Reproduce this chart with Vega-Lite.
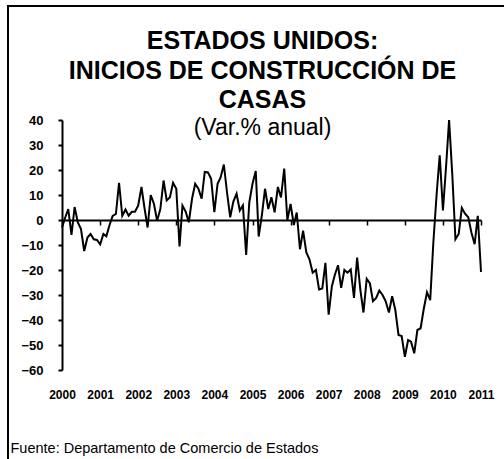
{
  "$schema": "https://vega.github.io/schema/vega-lite/v6.json",
  "width": 497,
  "height": 454,
  "autosize": {"type": "none"},
  "padding": {"left": 8, "top": 6, "right": 0, "bottom": 0},
  "background": "white",
  "title": {
    "text": ["ESTADOS UNIDOS:", "INICIOS DE CONSTRUCCIÓN  DE", "CASAS"],
    "subtitle": "(Var.% anual)",
    "anchor": "middle",
    "frame": "group",
    "dx": 6,
    "offset": -134,
    "font": "Liberation Sans",
    "fontSize": 25,
    "fontWeight": "bold",
    "color": "black",
    "lineHeight": 29.5,
    "subtitleFont": "Liberation Sans",
    "subtitleFontSize": 23,
    "subtitleFontWeight": "normal",
    "subtitleColor": "black",
    "subtitlePadding": 4
  },
  "config": {
    "view": {"stroke": "black", "strokeWidth": 2},
    "font": "Liberation Sans"
  },
  "data": {
    "values": [
      {"date": "2000-01-01", "value": -3},
      {"date": "2000-02-01", "value": 1},
      {"date": "2000-03-01", "value": 4.4},
      {"date": "2000-04-01", "value": -6},
      {"date": "2000-05-01", "value": 5.2},
      {"date": "2000-06-01", "value": -1},
      {"date": "2000-07-01", "value": -3.6},
      {"date": "2000-08-01", "value": -12.4},
      {"date": "2000-09-01", "value": -7},
      {"date": "2000-10-01", "value": -5.6},
      {"date": "2000-11-01", "value": -7.7},
      {"date": "2000-12-01", "value": -8},
      {"date": "2001-01-01", "value": -9.7},
      {"date": "2001-02-01", "value": -5.6},
      {"date": "2001-03-01", "value": -6.5},
      {"date": "2001-04-01", "value": -2},
      {"date": "2001-05-01", "value": 1.6},
      {"date": "2001-06-01", "value": 2.4},
      {"date": "2001-07-01", "value": 14.9},
      {"date": "2001-08-01", "value": 1.7},
      {"date": "2001-09-01", "value": 4.2},
      {"date": "2001-10-01", "value": 1.7},
      {"date": "2001-11-01", "value": 3.3},
      {"date": "2001-12-01", "value": 3.3},
      {"date": "2002-01-01", "value": 5.8},
      {"date": "2002-02-01", "value": 13.2},
      {"date": "2002-03-01", "value": 5.1},
      {"date": "2002-04-01", "value": -3},
      {"date": "2002-05-01", "value": 10},
      {"date": "2002-06-01", "value": 6.4},
      {"date": "2002-07-01", "value": -0.3},
      {"date": "2002-08-01", "value": 4.4},
      {"date": "2002-09-01", "value": 15.8},
      {"date": "2002-10-01", "value": 7.8},
      {"date": "2002-11-01", "value": 9.1},
      {"date": "2002-12-01", "value": 14.9},
      {"date": "2003-01-01", "value": 12.5},
      {"date": "2003-02-01", "value": -10.6},
      {"date": "2003-03-01", "value": 5.8},
      {"date": "2003-04-01", "value": 3.3},
      {"date": "2003-05-01", "value": -0.9},
      {"date": "2003-06-01", "value": 8.5},
      {"date": "2003-07-01", "value": 14.5},
      {"date": "2003-08-01", "value": 12.5},
      {"date": "2003-09-01", "value": 8.5},
      {"date": "2003-10-01", "value": 19.2},
      {"date": "2003-11-01", "value": 19},
      {"date": "2003-12-01", "value": 16.5},
      {"date": "2004-01-01", "value": 3.1},
      {"date": "2004-02-01", "value": 14.5},
      {"date": "2004-03-01", "value": 17},
      {"date": "2004-04-01", "value": 22.2},
      {"date": "2004-05-01", "value": 11.2},
      {"date": "2004-06-01", "value": 1.1},
      {"date": "2004-07-01", "value": 7.4},
      {"date": "2004-08-01", "value": 10.5},
      {"date": "2004-09-01", "value": 3.8},
      {"date": "2004-10-01", "value": 5.8},
      {"date": "2004-11-01", "value": -14},
      {"date": "2004-12-01", "value": 7.1},
      {"date": "2005-01-01", "value": 14.5},
      {"date": "2005-02-01", "value": 19.6},
      {"date": "2005-03-01", "value": -6.6},
      {"date": "2005-04-01", "value": 2},
      {"date": "2005-05-01", "value": 12.5},
      {"date": "2005-06-01", "value": 4.4},
      {"date": "2005-07-01", "value": 9.1},
      {"date": "2005-08-01", "value": 3.1},
      {"date": "2005-09-01", "value": 13.2},
      {"date": "2005-10-01", "value": 9},
      {"date": "2005-11-01", "value": 20.6},
      {"date": "2005-12-01", "value": 0},
      {"date": "2006-01-01", "value": 6.4},
      {"date": "2006-02-01", "value": -2},
      {"date": "2006-03-01", "value": 3},
      {"date": "2006-04-01", "value": -11.7},
      {"date": "2006-05-01", "value": -4.3},
      {"date": "2006-06-01", "value": -13},
      {"date": "2006-07-01", "value": -15.7},
      {"date": "2006-08-01", "value": -21.1},
      {"date": "2006-09-01", "value": -20},
      {"date": "2006-10-01", "value": -27.8},
      {"date": "2006-11-01", "value": -27.4},
      {"date": "2006-12-01", "value": -17.1},
      {"date": "2007-01-01", "value": -37.9},
      {"date": "2007-02-01", "value": -26.5},
      {"date": "2007-03-01", "value": -22},
      {"date": "2007-04-01", "value": -18.1},
      {"date": "2007-05-01", "value": -27.1},
      {"date": "2007-06-01", "value": -20},
      {"date": "2007-07-01", "value": -21.1},
      {"date": "2007-08-01", "value": -19.8},
      {"date": "2007-09-01", "value": -31.2},
      {"date": "2007-10-01", "value": -15},
      {"date": "2007-11-01", "value": -28},
      {"date": "2007-12-01", "value": -37},
      {"date": "2008-01-01", "value": -23.5},
      {"date": "2008-02-01", "value": -25.4},
      {"date": "2008-03-01", "value": -32.5},
      {"date": "2008-04-01", "value": -31.2},
      {"date": "2008-05-01", "value": -28.2},
      {"date": "2008-06-01", "value": -30},
      {"date": "2008-07-01", "value": -32.5},
      {"date": "2008-08-01", "value": -37},
      {"date": "2008-09-01", "value": -30.5},
      {"date": "2008-10-01", "value": -35.9},
      {"date": "2008-11-01", "value": -46},
      {"date": "2008-12-01", "value": -46.4},
      {"date": "2009-01-01", "value": -54.7},
      {"date": "2009-02-01", "value": -48},
      {"date": "2009-03-01", "value": -48.7},
      {"date": "2009-04-01", "value": -53.3},
      {"date": "2009-05-01", "value": -44},
      {"date": "2009-06-01", "value": -43.3},
      {"date": "2009-07-01", "value": -35.6},
      {"date": "2009-08-01", "value": -28.9},
      {"date": "2009-09-01", "value": -32.1},
      {"date": "2009-10-01", "value": -9},
      {"date": "2009-11-01", "value": 10},
      {"date": "2009-12-01", "value": 25.9},
      {"date": "2010-01-01", "value": 3.8},
      {"date": "2010-02-01", "value": 22},
      {"date": "2010-03-01", "value": 40},
      {"date": "2010-04-01", "value": 17.9},
      {"date": "2010-05-01", "value": -7.7},
      {"date": "2010-06-01", "value": -5.6},
      {"date": "2010-07-01", "value": 4.8},
      {"date": "2010-08-01", "value": 2.5},
      {"date": "2010-09-01", "value": 1.1},
      {"date": "2010-10-01", "value": -5},
      {"date": "2010-11-01", "value": -9.7},
      {"date": "2010-12-01", "value": 1.7},
      {"date": "2011-01-01", "value": -20.8}
    ]
  },
  "mark": {"type": "line", "color": "black", "strokeWidth": 2},
  "encoding": {
    "x": {
      "field": "date",
      "type": "temporal",
      "scale": {
        "type": "utc",
        "domain": [
          {"year": 2000, "month": 1, "date": 1, "utc": true},
          {"year": 2011, "month": 1, "date": 1, "utc": true}
        ],
        "range": [54, 473],
        "nice": false
      },
      "axis": {
        "orient": "bottom",
        "offset": -240,
        "title": "Fuente: Departamento de Comercio de Estados",
        "titleX": 2,
        "titleY": 232,
        "titleAlign": "left",
        "titleAnchor": "start",
        "titleBaseline": "alphabetic",
        "titleFont": "Liberation Sans",
        "titleFontSize": 14.5,
        "titleFontWeight": "normal",
        "titleColor": "black",
        "domain": true,
        "domainColor": "black",
        "domainWidth": 2,
        "ticks": true,
        "tickSize": 5,
        "tickColor": "black",
        "tickWidth": 1.5,
        "tickCount": {"interval": "year", "step": 1},
        "format": "%Y",
        "labelFont": "Liberation Sans",
        "labelFontSize": 12,
        "labelFontWeight": "bold",
        "labelColor": "black",
        "labelPadding": 164,
        "labelOverlap": false,
        "labelFlush": false,
        "grid": false
      }
    },
    "y": {
      "field": "value",
      "type": "quantitative",
      "scale": {"domain": [-60, 40], "range": [364, 114], "nice": false, "zero": false},
      "axis": {
        "orient": "left",
        "offset": -54,
        "values": [-60, -50, -40, -30, -20, -10, 0, 10, 20, 30, 40],
        "title": null,
        "domainColor": "black",
        "domainWidth": 2,
        "tickSize": 4,
        "tickWidth": 2,
        "tickColor": "black",
        "labelFont": "Liberation Sans",
        "labelFontSize": 13,
        "labelFontWeight": "bold",
        "labelColor": "black",
        "labelPadding": 15,
        "grid": false
      }
    }
  }
}
